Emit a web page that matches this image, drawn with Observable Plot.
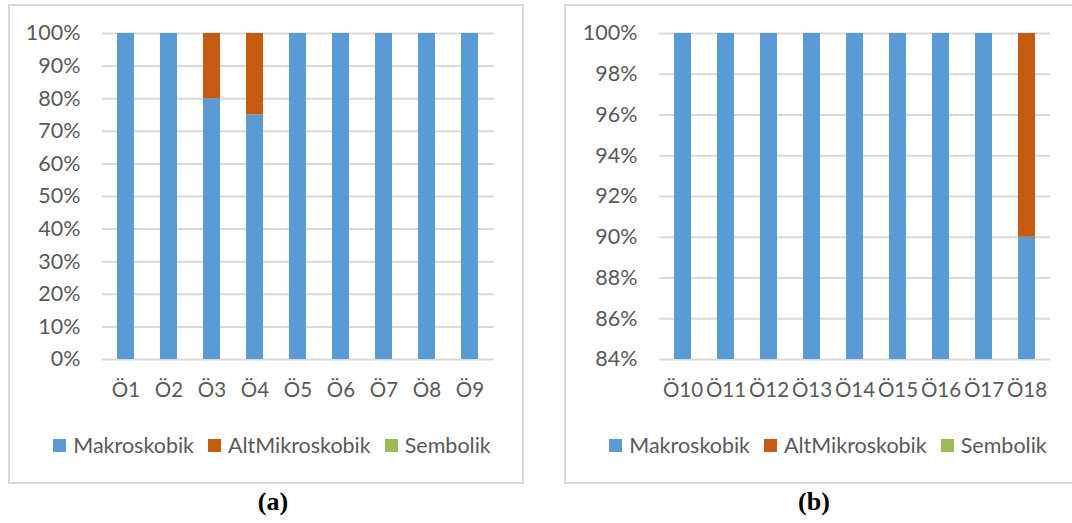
<!DOCTYPE html>
<html>
<head>
<meta charset="utf-8">
<script src="https://cdn.jsdelivr.net/npm/d3@7"></script>
<script src="https://cdn.jsdelivr.net/npm/@observablehq/plot@0.6"></script>
<style>
  html, body { margin: 0; padding: 0; background: #fff; }
  body { width: 1072px; height: 523px; position: relative; overflow: hidden; font-family: Lato, sans-serif; }
  .box { position: absolute; border: 2px solid #d9d9d9; box-sizing: border-box; }
  .legend { position: absolute; display: flex; justify-content: center; align-items: center; font-family: Lato, sans-serif; font-size: 21.5px; color: #595959; white-space: nowrap; }
  .legend .item { display: flex; align-items: center; margin: 0 7px; }
  .legend .sw { width: 13px; height: 13px; margin-right: 7px; }
  .cap { position: absolute; font-family: "Liberation Serif", "Times New Roman", serif; font-weight: bold; font-size: 26px; color: #000; text-align: center; width: 100px; }
  svg { position: absolute; }
</style>
</head>
<body>
<div class="box" style="left:8px;top:4px;width:516px;height:480px;"></div>
<div class="box" style="left:564px;top:4px;width:520px;height:480px;"></div>
<div id="legA" class="legend" style="left:22px;top:431px;width:500px;height:28px;"></div>
<div id="legB" class="legend" style="left:578px;top:431px;width:500px;height:28px;"></div>
<div class="cap" style="left:223px;top:487px;">(a)</div>
<div class="cap" style="left:764px;top:487px;">(b)</div>
<script>
// ---- data ----
const seriesNames = ["Makroskobik", "AltMikroskobik", "Sembolik"];
const seriesColors = ["#5B9BD5", "#C55A11", "#9BBB59"];

const catsA = ["Ö1", "Ö2", "Ö3", "Ö4", "Ö5", "Ö6", "Ö7", "Ö8", "Ö9"];
const makroA = [1, 1, 0.80, 0.75, 1, 1, 1, 1, 1];
const altA   = [0, 0, 0.20, 0.25, 0, 0, 0, 0, 0];
const sembA  = [0, 0, 0, 0, 0, 0, 0, 0, 0];
const yTicksA = [0, 0.1, 0.2, 0.3, 0.4, 0.5, 0.6, 0.7, 0.8, 0.9, 1.0];

const catsB = ["Ö10", "Ö11", "Ö12", "Ö13", "Ö14", "Ö15", "Ö16", "Ö17", "Ö18"];
const makroB = [1, 1, 1, 1, 1, 1, 1, 1, 0.90];
const altB   = [0, 0, 0, 0, 0, 0, 0, 0, 0.10];
const sembB  = [0, 0, 0, 0, 0, 0, 0, 0, 0];
const yTicksB = [0.84, 0.86, 0.88, 0.90, 0.92, 0.94, 0.96, 0.98, 1.00];

function rows(cats, makro, alt, semb) {
  const out = [];
  cats.forEach((c, i) => {
    out.push({cat: c, series: seriesNames[0], value: makro[i]});
    out.push({cat: c, series: seriesNames[1], value: alt[i]});
    out.push({cat: c, series: seriesNames[2], value: semb[i]});
  });
  return out;
}

function chart(cats, data, yDomain, yTicks, opts) {
  return Plot.plot({
    width: opts.width,
    height: 420,
    marginLeft: opts.marginLeft,
    marginRight: opts.marginRight,
    marginTop: 33,
    marginBottom: 61,
    style: {fontFamily: "Lato, sans-serif", fontSize: "21.5px", color: "#595959", background: "transparent"},
    x: {domain: cats, paddingInner: 0.6, paddingOuter: 0.3, label: null},
    y: {domain: yDomain, label: null},
    color: {domain: seriesNames, range: seriesColors},
    marks: [
      Plot.gridY(yTicks, {stroke: "#d9d9d9", strokeOpacity: 1, strokeWidth: 2}),
      Plot.barY(data, {x: "cat", y: "value", fill: "series", order: seriesNames, clip: true}),
      Plot.axisY(yTicks, {tickSize: 0, tickPadding: 22, tickFormat: d => Math.round(d * 100) + "%", fill: "#595959"}),
      Plot.axisX({tickSize: 0, tickPadding: 23, fill: "#595959", fontSize: 20.5})
    ]
  });
}

const svgA = chart(catsA, rows(catsA, makroA, altA, sembA), [0, 1], yTicksA, {width: 530, marginLeft: 102, marginRight: 36});
svgA.style.left = "0px"; svgA.style.top = "0px";
document.body.appendChild(svgA);

const svgB = chart(catsB, rows(catsB, makroB, altB, sembB), [0.84, 1], yTicksB, {width: 532, marginLeft: 119, marginRight: 22});
svgB.style.left = "540px"; svgB.style.top = "0px";
document.body.appendChild(svgB);

function legend(id) {
  const el = document.getElementById(id);
  seriesNames.forEach((name, i) => {
    const item = document.createElement("div");
    item.className = "item";
    const sw = document.createElement("span");
    sw.className = "sw";
    sw.style.background = seriesColors[i];
    const t = document.createElement("span");
    t.textContent = name;
    item.appendChild(sw); item.appendChild(t);
    el.appendChild(item);
  });
}
legend("legA");
legend("legB");
</script>
</body>
</html>
